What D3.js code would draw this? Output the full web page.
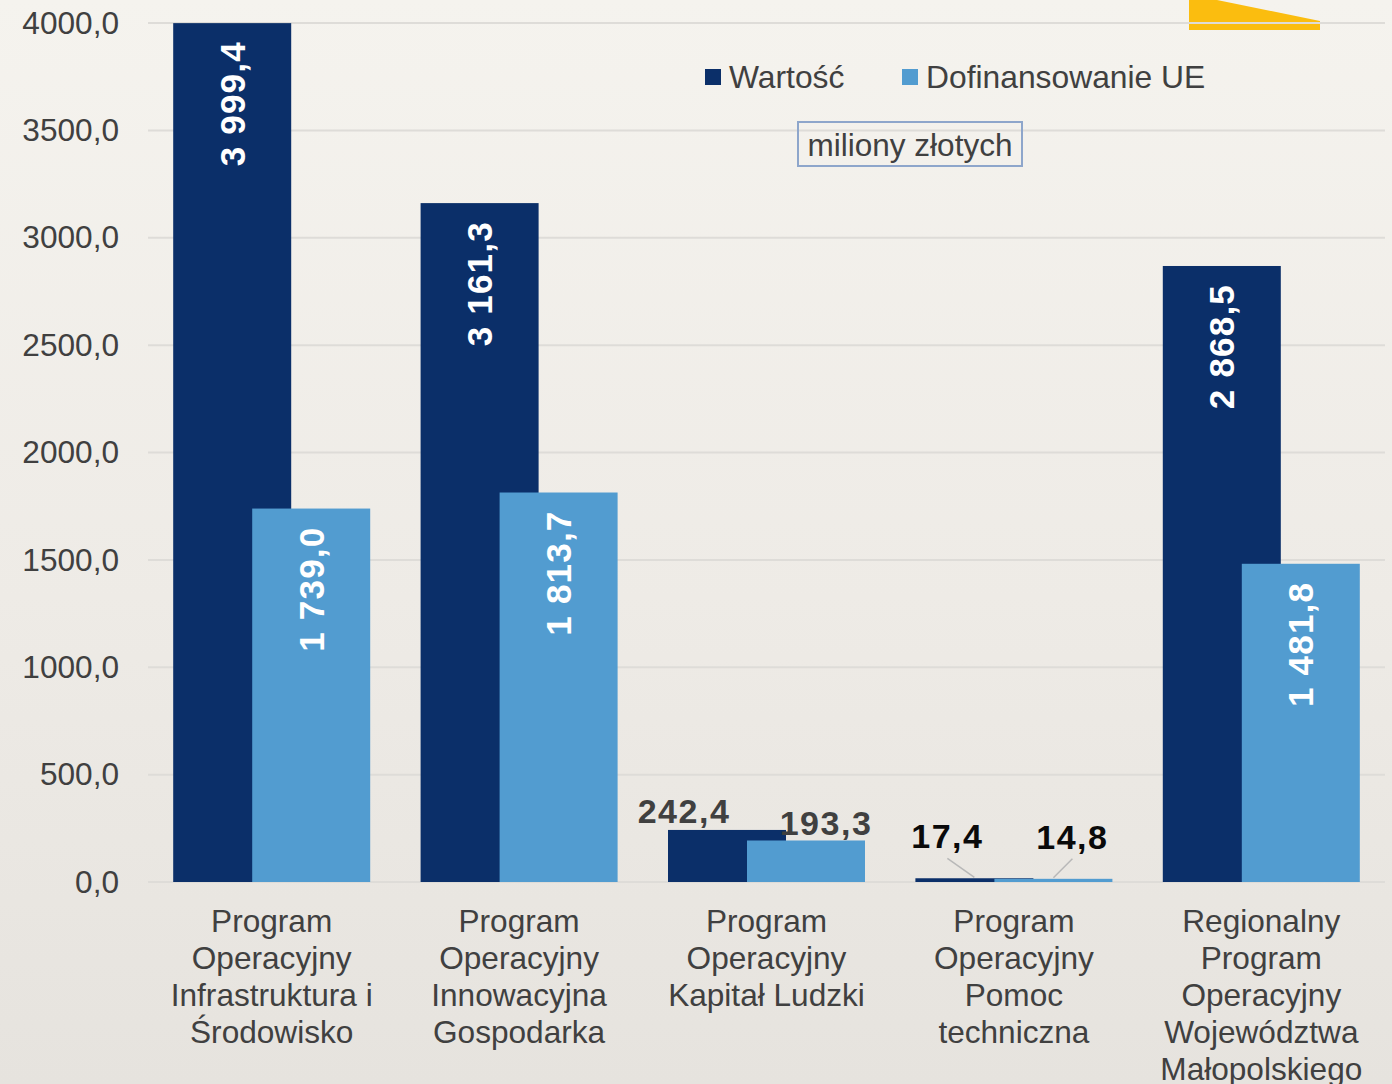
<!DOCTYPE html>
<html>
<head>
<meta charset="utf-8">
<script src="https://cdn.jsdelivr.net/npm/d3@7"></script>
<style>
html,body{margin:0;padding:0;background:#efece7;}
svg{display:block;font-family:"Liberation Sans",Arial,sans-serif;}
</style>
</head>
<body>
<svg id="chart" width="1392" height="1084"></svg>
<script>
const categories = [
  ["Program","Operacyjny","Infrastruktura i","Środowisko"],
  ["Program","Operacyjny","Innowacyjna","Gospodarka"],
  ["Program","Operacyjny","Kapitał Ludzki"],
  ["Program","Operacyjny","Pomoc","techniczna"],
  ["Regionalny","Program","Operacyjny","Województwa","Małopolskiego"]
];
const wartosc = [3999.4, 3161.3, 242.4, 17.4, 2868.5];
const dofinansowanie = [1739.0, 1813.7, 193.3, 14.8, 1481.8];
const seriesNames = ["Wartość", "Dofinansowanie UE"];
const yTicks = [0, 500, 1000, 1500, 2000, 2500, 3000, 3500, 4000];
const unitLabel = "miliony złotych";

const colors = ["#0b2f69", "#529cd0"];
const svg = d3.select("#chart");
const W = 1392, H = 1084;

// background
const defs = svg.append("defs");
const grad = defs.append("linearGradient").attr("id","bg").attr("x1",0).attr("y1",0).attr("x2",0).attr("y2",1);
grad.append("stop").attr("offset","0%").attr("stop-color","#f5f3ee");
grad.append("stop").attr("offset","55%").attr("stop-color","#eeebe6");
grad.append("stop").attr("offset","100%").attr("stop-color","#e6e3de");
svg.append("rect").attr("width",W).attr("height",H).attr("fill","url(#bg)");

const x = d3.scaleBand().domain(d3.range(categories.length)).range([148, 1385]).padding(0);
const y = d3.scaleLinear().domain([0, 4000]).range([882, 23]);

// yellow decoration top-right
svg.append("path")
  .attr("d", "M1189,0 L1217,0 L1320,21 L1320,30 L1189,30 Z")
  .attr("fill", "#fbbd0f");

// gridlines
svg.append("g").selectAll("line").data(yTicks).join("line")
  .attr("x1", 148).attr("x2", 1385)
  .attr("y1", d => y(d)).attr("y2", d => y(d))
  .attr("stroke", "#dedcd8").attr("stroke-width", 2);

// y axis labels
const fmt = v => v.toFixed(1).replace(".", ",");
const yAxis = d3.axisLeft(y).tickValues(yTicks).tickFormat(fmt).tickSize(0).tickPadding(0);
const ga = svg.append("g").attr("transform","translate(119,0)").call(yAxis);
ga.select(".domain").remove();
ga.selectAll("text").attr("font-size", 31.6).attr("fill", "#404040")
  .attr("font-family", "Liberation Sans, Arial, sans-serif");

const barW = 118;
const dOff = x.bandwidth()/2 - 98.5;
const lOff = x.bandwidth()/2 - 19.5;

// dark bars
svg.append("g").selectAll("rect").data(wartosc).join("rect")
  .attr("x", (d,i) => x(i) + dOff).attr("width", barW)
  .attr("y", d => y(d)).attr("height", d => y(0) - y(d))
  .attr("fill", colors[0]);
// light bars
svg.append("g").selectAll("rect").data(dofinansowanie).join("rect")
  .attr("x", (d,i) => x(i) + lOff).attr("width", barW)
  .attr("y", d => y(d)).attr("height", d => y(0) - y(d))
  .attr("fill", colors[1]);

const nf = v => {
  const s = v.toFixed(1).split(".");
  const int = s[0].replace(/\B(?=(\d{3})+(?!\d))/g, " ");
  return int + "," + s[1];
};

// rotated labels inside big bars
function insideLabels(data, off) {
  data.forEach((v, i) => {
    if (v < 1000) return;
    const cx = x(i) + off + barW/2;
    const ty = y(v) + 18;
    svg.append("text")
      .attr("transform", `translate(${cx},${ty}) rotate(-90)`)
      .attr("text-anchor", "end").attr("dominant-baseline", "central")
      .attr("font-size", 35).attr("font-weight", "bold").attr("fill", "#ffffff")
      .attr("letter-spacing", 1.2)
      .text(nf(v));
  });
}
insideLabels(wartosc, dOff);
insideLabels(dofinansowanie, lOff);

// small labels above short bars
const smallCfg = [
  {series: wartosc, idx: 2, off: dOff, dx: -43, dy: -7, color: "#404040"},
  {series: dofinansowanie, idx: 2, off: lOff, dx: 20, dy: -5, color: "#404040"},
  {series: wartosc, idx: 3, off: dOff, dx: -27, dy: -30, color: "#0a0a0a", leader: true},
  {series: dofinansowanie, idx: 3, off: lOff, dx: 19, dy: -30, color: "#0a0a0a", leader: true}
];
smallCfg.forEach(c => {
  const v = c.series[c.idx];
  const bx = x(c.idx) + c.off + barW/2;
  const by = y(v);
  const tx = bx + c.dx, ty = by + c.dy;
  if (c.leader) {
    svg.append("line")
      .attr("x1", tx).attr("y1", ty + 10)
      .attr("x2", bx).attr("y2", by - 1)
      .attr("stroke", "#b8b8b8").attr("stroke-width", 1.5);
  }
  svg.append("text")
    .attr("x", tx).attr("y", ty)
    .attr("text-anchor", "middle")
    .attr("font-size", 34).attr("font-weight", "bold").attr("fill", c.color)
    .attr("letter-spacing", 1.5)
    .text(nf(v));
});

// category labels
categories.forEach((lines, i) => {
  const t = svg.append("text")
    .attr("x", x(i) + x.bandwidth()/2).attr("y", 932)
    .attr("text-anchor", "middle").attr("font-size", 31.6).attr("fill", "#404040");
  lines.forEach((ln, j) => {
    t.append("tspan").attr("x", x(i) + x.bandwidth()/2).attr("y", 932 + j*37).text(ln);
  });
});

// legend
const legend = [
  {name: seriesNames[0], color: colors[0], x: 705},
  {name: seriesNames[1], color: colors[1], x: 902}
];
legend.forEach(l => {
  svg.append("rect").attr("x", l.x).attr("y", 69).attr("width", 16).attr("height", 16).attr("fill", l.color);
  svg.append("text").attr("x", l.x + 24).attr("y", 88)
    .attr("font-size", 31.8).attr("fill", "#404040").text(l.name);
});

// unit box
svg.append("rect").attr("x", 798).attr("y", 122).attr("width", 224).attr("height", 44)
  .attr("fill", "none").attr("stroke", "#8ea6cb").attr("stroke-width", 2);
svg.append("text").attr("x", 910).attr("y", 156).attr("text-anchor", "middle")
  .attr("font-size", 31.5).attr("fill", "#404040").text(unitLabel);
</script>
</body>
</html>
